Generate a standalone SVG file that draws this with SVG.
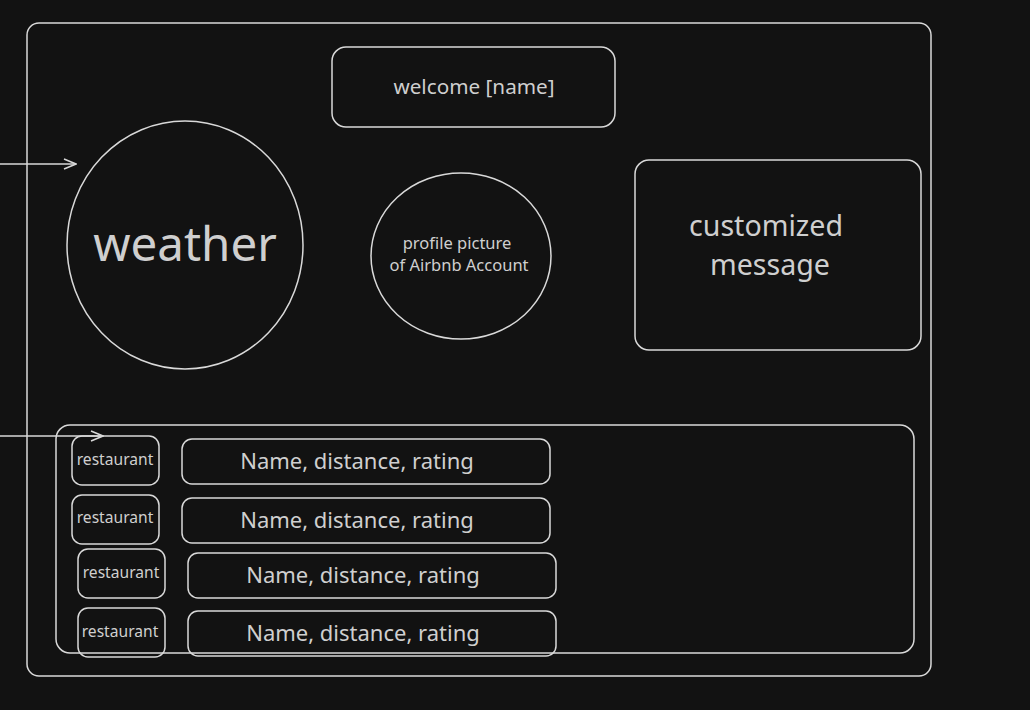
<svg xmlns="http://www.w3.org/2000/svg" width="1030" height="710" viewBox="0 0 1030 710">
<defs>
<style>
.s{fill:none;stroke:#d9d9d9;stroke-width:1.5}
.t{fill:#cfcfcf;font-family:"Noto Sans","Open Sans",sans-serif;text-anchor:middle;dominant-baseline:central}
</style>
<marker id="ah" markerWidth="14" markerHeight="12" refX="13" refY="6" orient="auto" markerUnits="userSpaceOnUse">
<path d="M1,1 L13,6 L1,11" fill="none" stroke="#d9d9d9" stroke-width="1.5"/>
</marker>
</defs>
<rect width="1030" height="710" fill="#121212"/>
<g id="frame"><rect class="s" x="27" y="23" width="904" height="653" rx="12"/></g>
<g id="welcome"><rect class="s" x="332" y="47" width="283" height="80" rx="14"/><text class="t" x="474" y="86" font-size="20.7">welcome [name]</text></g>
<g id="weather"><ellipse class="s" cx="185" cy="245" rx="118" ry="124"/><text class="t" x="185" y="242" font-size="47.5">weather</text></g>
<g id="profile"><ellipse class="s" cx="461" cy="256" rx="90" ry="83"/><text class="t" x="457" y="242" font-size="16.5">profile picture</text><text class="t" x="459" y="264" font-size="16.5">of Airbnb Account</text></g>
<g id="message"><rect class="s" x="635" y="160" width="286" height="190" rx="14"/><text class="t" x="766" y="224" font-size="28.6">customized</text><text class="t" x="770" y="263" font-size="28.6">message</text></g>
<g id="list"><rect class="s" x="56" y="425" width="858" height="228" rx="14"/></g>
<g id="r1"><rect class="s" x="72" y="436" width="87" height="49" rx="10"/><text class="t" x="115" y="459" font-size="15.6">restaurant</text></g>
<g id="r2"><rect class="s" x="72" y="495" width="87" height="49" rx="10"/><text class="t" x="115" y="517" font-size="15.6">restaurant</text></g>
<g id="r3"><rect class="s" x="78" y="549" width="87" height="49" rx="10"/><text class="t" x="121" y="572" font-size="15.6">restaurant</text></g>
<g id="r4"><rect class="s" x="78" y="608" width="87" height="49" rx="10"/><text class="t" x="120" y="631" font-size="15.6">restaurant</text></g>
<g id="n1"><rect class="s" x="182" y="439" width="368" height="45" rx="10"/><text class="t" x="357" y="460" font-size="22">Name, distance, rating</text></g>
<g id="n2"><rect class="s" x="182" y="498" width="368" height="45" rx="10"/><text class="t" x="357" y="519" font-size="22">Name, distance, rating</text></g>
<g id="n3"><rect class="s" x="188" y="553" width="368" height="45" rx="10"/><text class="t" x="363" y="574" font-size="22">Name, distance, rating</text></g>
<g id="n4"><rect class="s" x="188" y="611" width="368" height="45" rx="10"/><text class="t" x="363" y="632" font-size="22">Name, distance, rating</text></g>
<g id="connectors">
<line class="s" x1="0" y1="164" x2="76" y2="164" marker-end="url(#ah)"/>
<line class="s" x1="0" y1="436" x2="103" y2="436" marker-end="url(#ah)"/>
</g>
</svg>
